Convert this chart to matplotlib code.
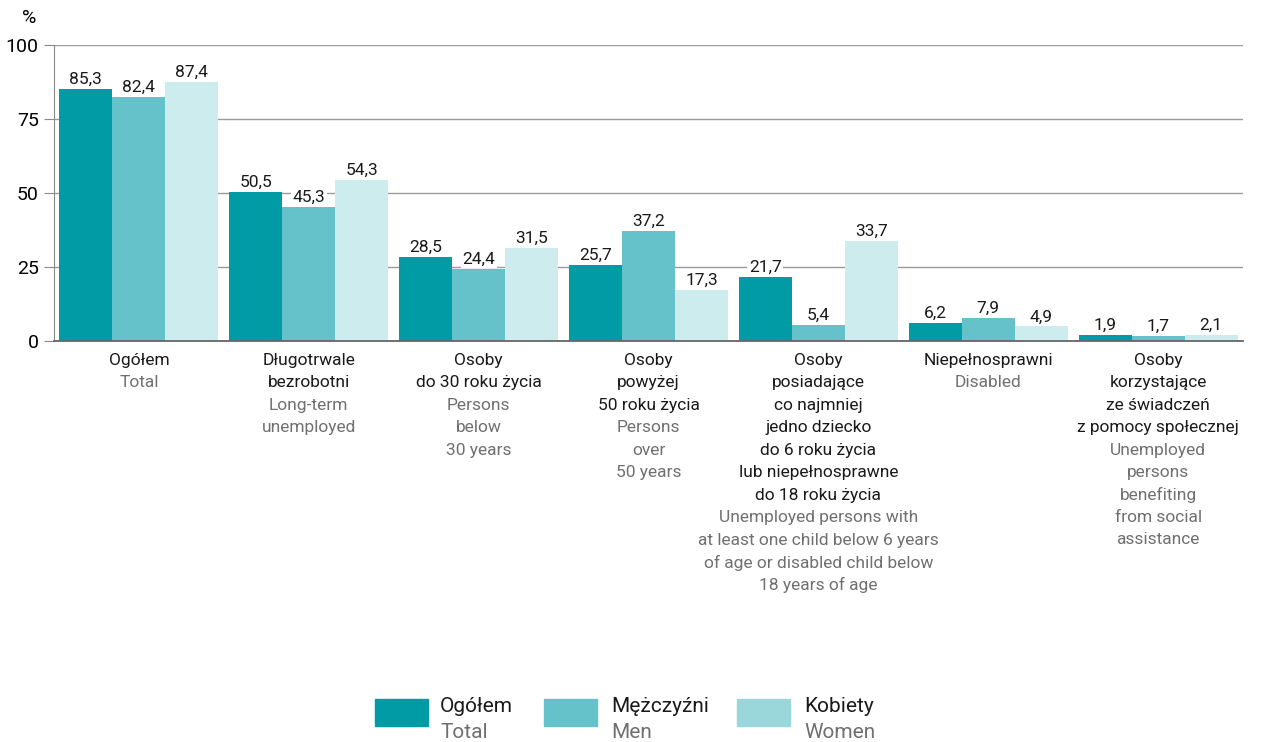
import matplotlib
matplotlib.use("Agg")
import matplotlib.pyplot as plt
from matplotlib.patches import Rectangle
import numpy as np

plt.rcParams['font.family'] = ['Roboto', 'DejaVu Sans']

# data
categories_pl = [
    ["Ogółem"],
    ["Długotrwale", "bezrobotni"],
    ["Osoby", "do 30 roku życia"],
    ["Osoby", "powyżej", "50 roku życia"],
    ["Osoby", "posiadające", "co najmniej", "jedno dziecko", "do 6 roku życia",
     "lub niepełnosprawne", "do 18 roku życia"],
    ["Niepełnosprawni"],
    ["Osoby", "korzystające", "ze świadczeń", "z pomocy społecznej"],
]
categories_en = [
    ["Total"],
    ["Long-term", "unemployed"],
    ["Persons", "below", "30 years"],
    ["Persons", "over", "50 years"],
    ["Unemployed persons with", "at least one child below 6 years",
     "of age or disabled child below", "18 years of age"],
    ["Disabled"],
    ["Unemployed", "persons", "benefiting", "from social", "assistance"],
]
total = [85.3, 50.5, 28.5, 25.7, 21.7, 6.2, 1.9]
men = [82.4, 45.3, 24.4, 37.2, 5.4, 7.9, 1.7]
women = [87.4, 54.3, 31.5, 17.3, 33.7, 4.9, 2.1]
series_pl = ["Ogółem", "Mężczyźni", "Kobiety"]
series_en = ["Total", "Men", "Women"]

colors = ["#009ba4", "#66c2ca", "#cceced"]
legend_colors = ["#009ba4", "#66c2ca", "#9ad7da"]
gray_text = "#707070"

fig = plt.figure(figsize=(12.62, 7.42), dpi=100)
W, H = 1262, 742
ax = fig.add_axes([54 / W, 1 - 341 / H, (1243 - 54) / W, (341 - 45) / H])

x = np.arange(len(total))
bw = 0.312
for i, vals in enumerate([total, men, women]):
    bars = ax.bar(x + (i - 1) * bw, vals, width=bw, color=colors[i], zorder=2)
    for b, v in zip(bars, vals):
        ax.annotate(f"{v:.1f}".replace(".", ","),
                    (b.get_x() + b.get_width() / 2, v),
                    xytext=(0, 1.5), textcoords="offset points",
                    ha="center", va="bottom", fontsize=12.5, color="#1a1a1a",
                    bbox=dict(boxstyle="square,pad=0.1", fc="white", ec="none"),
                    zorder=3)

ax.set_xlim(-0.5, 6.5)
ax.set_ylim(0, 100)
ax.set_yticks([0, 25, 50, 75, 100])
ax.set_yticklabels(["0", "25", "50", "75", "100"], fontsize=14)
ax.set_xticks([])
ax.grid(axis="y", color="#9a9a9a", linewidth=1)
ax.set_axisbelow(True)
for s in ["top", "right"]:
    ax.spines[s].set_visible(False)
ax.spines["left"].set_color("#8a8a8a")
ax.spines["bottom"].set_color("#666666")
ax.spines["bottom"].set_linewidth(1.3)
ax.tick_params(axis="y", length=7, color="#8a8a8a", pad=4)
fig.text(29 / W, 1 - 18 / H, "%", fontsize=14, ha="center", va="center")

# category labels, line by line
line_h = 22.5 * 0.72
first = 19 * 0.72
for ci in range(len(categories_pl)):
    lines = [(t, "#1a1a1a") for t in categories_pl[ci]] + [(t, gray_text) for t in categories_en[ci]]
    for li, (t, c) in enumerate(lines):
        ax.annotate(t, (x[ci], 0), xycoords=("data", "axes fraction"),
                    xytext=(0, -(first + li * line_h)), textcoords="offset points",
                    ha="center", va="center", fontsize=12.5, color=c, annotation_clip=False)

# legend
patch_x = [375, 544, 737]
text_x = [440, 611, 804]
for i in range(3):
    fig.add_artist(Rectangle((patch_x[i] / W, 1 - 726 / H), 53 / W, 27 / H,
                             transform=fig.transFigure, color=legend_colors[i]))
    fig.text(text_x[i] / W, 1 - 707 / H, series_pl[i], fontsize=15, va="center", color="#1a1a1a")
    fig.text(text_x[i] / W, 1 - 733 / H, series_en[i], fontsize=15, va="center", color=gray_text)

plt.savefig("out.png", dpi=100)
